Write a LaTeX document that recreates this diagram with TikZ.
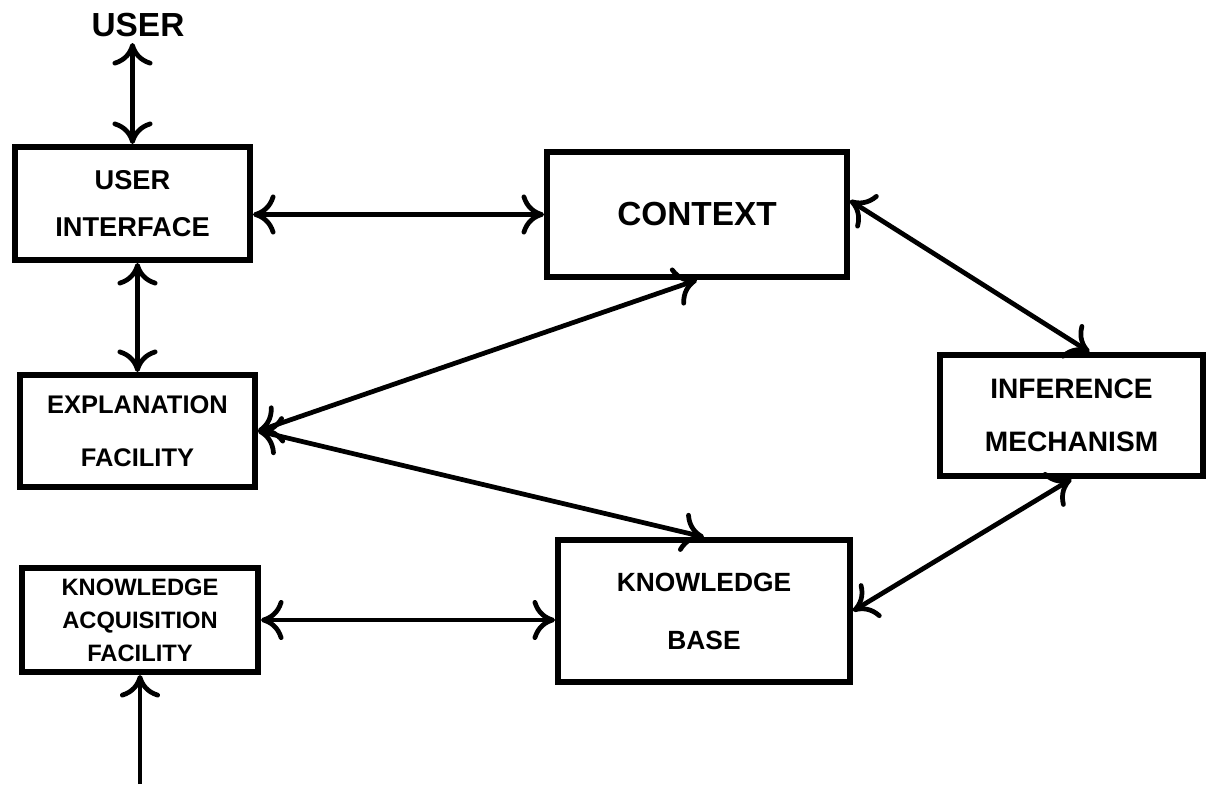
\documentclass[tikz,border=0pt]{standalone}
\usepackage{fontspec}
\setmainfont{Liberation Sans}
\usetikzlibrary{arrows.meta,calc}
\tikzset{
  blk/.style={draw,rectangle,line width=3.4pt,align=center,inner sep=0pt},
  arr/.style={->,line width=2.7pt},
  darr/.style={<->,line width=2.7pt},
  lbl/.style={font=\bfseries}
}

\begin{document}
\begin{tikzpicture}[x=0.02cm,y=-0.02cm,
  >={Computer Modern Rightarrow[length=4.5mm,width=8mm]}]
  \useasboundingbox (0,0) rectangle (1209,784);

  \node[lbl,font=\fontsize{19}{22}\selectfont\bfseries] (user) at (138,25) {USER};
  \node[blk,minimum width=4.7cm,minimum height=2.26cm,font=\fontsize{15.5}{27}\selectfont\bfseries] (ui) at (132.5,203.5) {USER\\INTERFACE};
  \node[blk,minimum width=6cm,minimum height=2.5cm,font=\fontsize{19}{22}\selectfont\bfseries] (ctx) at (697,214.5) {CONTEXT};
  \node[blk,minimum width=4.7cm,minimum height=2.24cm,font=\fontsize{14.5}{30}\selectfont\bfseries] (ef) at (137.5,431) {EXPLANATION\\FACILITY};
  \node[blk,minimum width=5.26cm,minimum height=2.42cm,font=\fontsize{16}{30.5}\selectfont\bfseries] (im) at (1071.5,415.5) {INFERENCE\\MECHANISM};
  \node[blk,minimum width=5.84cm,minimum height=2.84cm,font=\fontsize{15}{33}\selectfont\bfseries] (kb) at (704,611) {KNOWLEDGE\\BASE};
  \node[blk,minimum width=4.72cm,minimum height=2.08cm,font=\fontsize{13.5}{18.7}\selectfont\bfseries] (kaf) at (140,620) {KNOWLEDGE\\ACQUISITION\\FACILITY};
  \coordinate (ext) at (140,784);

  \draw[darr] (ui.north |- user.south) -- (ui.north);
  \draw[darr] (ui.east |- ctx) -- (ctx.west);
  \draw[darr] (ui.south -| ef.north) -- (ef.north);
  \draw[darr] (ef.east) -- (ctx.south);
  \draw[darr] (ef.east) -- (kb.north);
  \draw[darr] ($(ctx.east)+(0,-14)$) -- ($(im.north)+(18,0)$);
  \draw[darr] (im.south) -- (kb.east);
  \draw[darr] (kaf.east) -- (kaf.east -| kb.west);
  \draw[arr] (ext) -- (kaf.south);
\end{tikzpicture}
\end{document}
